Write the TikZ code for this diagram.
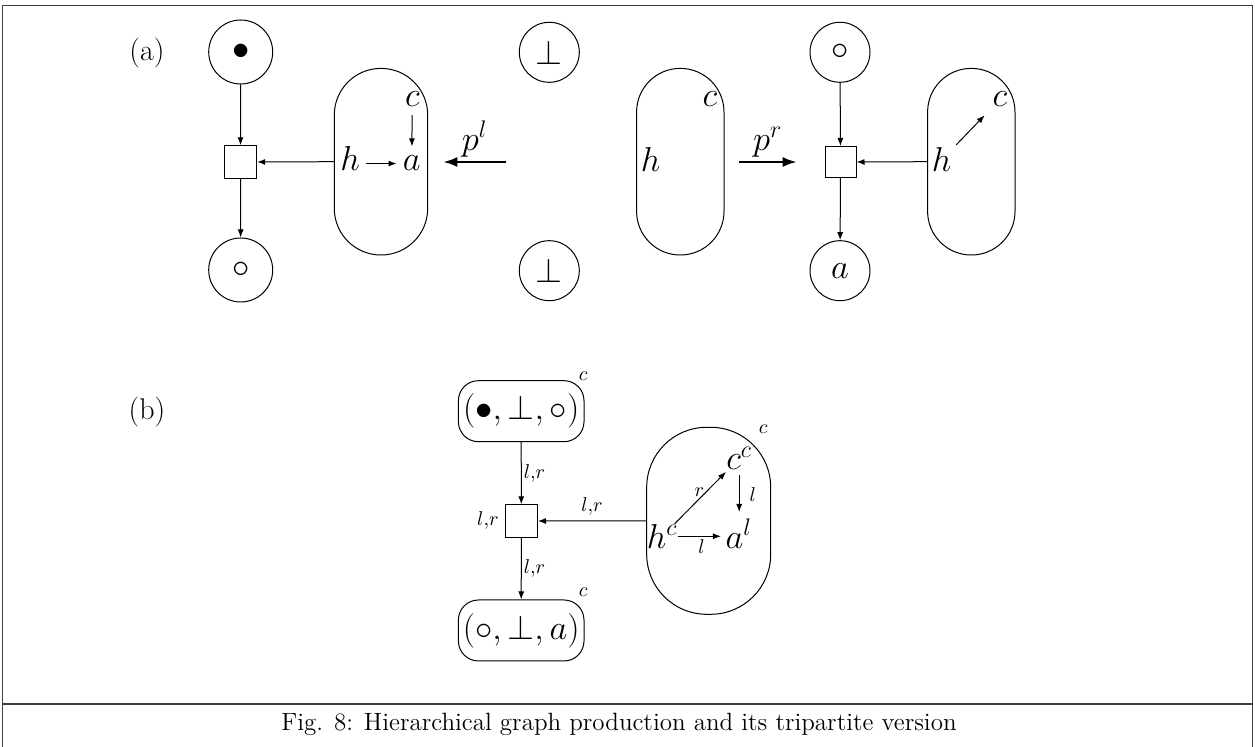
\documentclass[tikz,border=0pt]{standalone}
\usetikzlibrary{arrows.meta}
\begin{document}
\begin{tikzpicture}[x=0.5pt,y=-0.5pt,
  line width=0.5pt,
  >={Latex[length=4pt,width=3pt]},
  every node/.style={inner sep=0pt},
  mfont/.style={font=\fontsize{17.5}{20}\selectfont},
  bfont/.style={font=\fontsize{16.5}{19}\selectfont},
  sfont/.style={font=\fontsize{10}{12}\selectfont},
  lfont/.style={font=\fontsize{15}{18}\selectfont},
  capfont/.style={font=\fontsize{12.5}{15}\selectfont},
  place/.style={draw,circle,minimum size=#1,mfont},
  trans/.style={draw,minimum size=#1},
  stad/.style={draw,rounded corners=#1,minimum height=93.3pt},
  tbox/.style={draw,rounded corners=10pt,minimum width=62.8pt,minimum height=30.5pt,bfont},
  letter/.style={mfont,anchor=base},
  bigarrow/.style={line width=1.1pt,-{Latex[length=7pt,width=5pt]}},
  frame/.style={line width=0.7pt,black!75}
]
\useasboundingbox (0,0) rectangle (1255,747);
% frame
\draw[frame] (2.5,747) -- (2.5,5.5) -- (1252.5,5.5) -- (1252.5,747);
\draw[frame] (2.5,704) -- (1252.5,704);
\node[capfont] (cap) at (619,724) {Fig. 8: Hierarchical graph production and its tripartite version};

% ---------- (a) ----------
\node[lfont] (la) at (147,53) {(a)};
\node[place=32pt] (p1) at (240.7,52) {$\bullet$};
\node[place=32pt] (p2) at (240.7,270) {$\circ$};
\node[trans=16.2pt] (t1) at (240.5,162) {};
\node[stad=23.3pt,minimum width=46.7pt] (g1) at (381,161.7) {};
\node[letter] (c1) at (412.3,106.7) {$c$};
\node[letter] (a1) at (411.7,171) {$a$};
\node[letter] (h1) at (350,171) {$h$};
\draw[->,shorten <=4pt,shorten >=4.6pt] (c1) -- (a1);
\draw[->,shorten <=2.9pt,shorten >=2.9pt] (h1.east |- a1.west) -- (a1.west);
\draw[->] (g1.west) -- (t1.east);
\draw[->] (p1) -- (t1);
\draw[->] (t1) -- (p2);
\coordinate (pl0) at (506,162);
\coordinate (pl1) at (443.3,162);
\draw[bigarrow] (pl0) -- node[above,inner sep=2pt,mfont] {$p^l$} (pl1);

\node[place=30pt] (b1) at (549.3,52.3) {$\bot$};
\node[place=30pt] (b2) at (549.3,270.7) {$\bot$};
\node[stad=21.8pt,minimum width=43.7pt] (g2) at (680.3,161.7) {};
\node[letter] (c2) at (710,106.7) {$c$};
\node[letter] (h2) at (650.7,172) {$h$};
\coordinate (pr0) at (739,162);
\coordinate (pr1) at (796.7,162);
\draw[bigarrow] (pr0) -- node[above,inner sep=2pt,mfont] {$p^r$} (pr1);

\node[place=30pt] (p3) at (840,52.3) {$\circ$};
\node[trans=15.5pt] (t2) at (840.5,162) {};
\node[place=30pt] (p4) at (840,270.7) {$a$};
\node[stad=21.8pt,minimum width=43.7pt] (g3) at (971.3,161.7) {};
\node[letter] (c3) at (1000,106.7) {$c$};
\node[letter] (h3) at (941.7,172) {$h$};
\draw[->,shorten <=3.1pt,shorten >=5.6pt] (h3) -- (c3);
\draw[->] (g3.west) -- (t2.east);
\draw[->] (p3) -- (t2);
\draw[->] (t2) -- (p4);

% ---------- (b) ----------
\node[lfont] (lb) at (147,411.7) {(b)};
\node[tbox] (T) at (521.2,411.2) {$(\bullet,\bot,\circ)$};
\node[sfont] (Tc) at (583.3,376) {$c$};
\node[trans=16.2pt,label={[sfont,xshift=-2.7pt]left:$l{,}r$}] (t3) at (521.3,521) {};
\node[tbox] (B) at (521.2,630.5) {$(\circ,\bot,a)$};
\node[sfont] (Bc) at (583.3,592.7) {$c$};
\draw[->] (T) -- node[right,inner sep=1pt,sfont] {$l{,}r$} (t3);
\draw[->] (t3) -- node[right,inner sep=1pt,sfont] {$l{,}r$} (B);

\node[stad=30pt,minimum width=62pt,minimum height=93.5pt] (g4) at (708.7,520.8) {};
\node[sfont] (g4c) at (763.3,429) {$c$};
\node[letter] (cc) at (739.2,470) {$c^c$};
\node[letter] (hc) at (662.2,548.3) {$h^c$};
\node[letter] (al) at (738.8,548.3) {$a^l$};
\draw[->,shorten >=1pt] (hc) -- node[pos=.47,above,inner sep=0.7pt,sfont] {$r$} (cc);
\draw[->,shorten <=2.5pt,shorten >=3.3pt] (cc.south) -- node[right,inner sep=5pt,sfont] {$l$} (cc.south |- al.north);
\draw[->,shorten >=2.1pt] (hc.east) -- node[below,inner sep=1.3pt,sfont] {$l$} (hc.east -| al.west);
\draw[->] (g4.west) -- node[above,inner sep=2.5pt,sfont] {$l{,}r$} (t3.east);
\end{tikzpicture}
\end{document}
